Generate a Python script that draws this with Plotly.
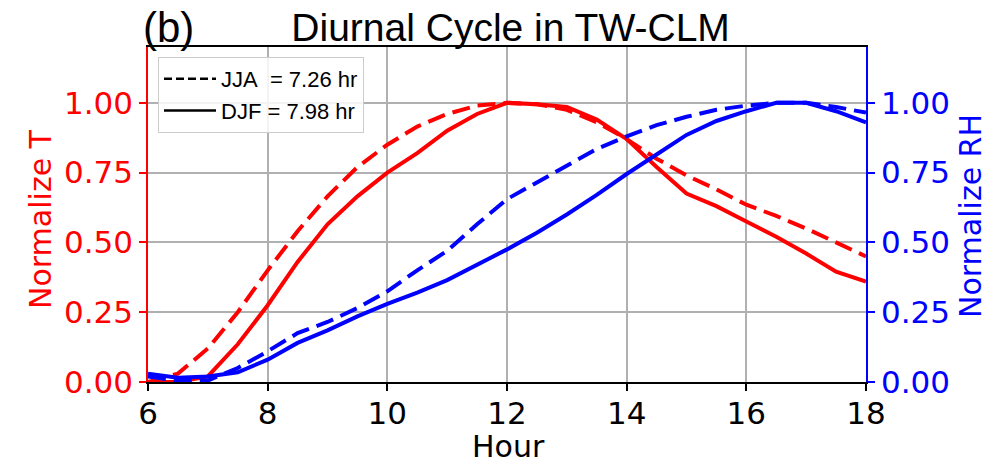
import plotly.graph_objects as go

hours = [6.0, 6.5, 7.0, 7.5, 8.0, 8.5, 9.0, 9.5, 10.0, 10.5, 11.0, 11.5, 12.0,
         12.5, 13.0, 13.5, 14.0, 14.5, 15.0, 15.5, 16.0, 16.5, 17.0, 17.5, 18.0]

t_djf = [0.00, 0.00, 0.02, 0.135, 0.275, 0.43, 0.565, 0.665, 0.75, 0.82, 0.90, 0.96, 1.00,
         0.995, 0.985, 0.94, 0.87, 0.77, 0.675, 0.63, 0.575, 0.52, 0.46, 0.395, 0.36]
t_jja = [0.00, 0.03, 0.12, 0.25, 0.40, 0.54, 0.665, 0.77, 0.85, 0.915, 0.96, 0.99, 1.00,
         0.995, 0.975, 0.93, 0.87, 0.80, 0.74, 0.69, 0.635, 0.595, 0.55, 0.50, 0.45]
rh_djf = [0.03, 0.015, 0.02, 0.035, 0.08, 0.14, 0.185, 0.235, 0.28, 0.32, 0.365, 0.42, 0.475,
          0.535, 0.60, 0.67, 0.745, 0.815, 0.885, 0.935, 0.97, 1.00, 1.00, 0.97, 0.93]
rh_jja = [0.02, 0.005, 0.005, 0.05, 0.11, 0.175, 0.215, 0.265, 0.325, 0.40, 0.47, 0.565, 0.655,
          0.715, 0.775, 0.835, 0.88, 0.92, 0.95, 0.975, 0.99, 1.00, 1.00, 0.985, 0.965]

legend_labels = ["JJA\u00a0 = 7.26 hr", "DJF = 7.98 hr"]
x_ticks = [6, 8, 10, 12, 14, 16, 18]
y_ticks = [0.0, 0.25, 0.5, 0.75, 1.0]

RED = "#ff0000"
BLUE = "#0000ff"
DASH = "18px,8px"
LW = 4
DV = "DejaVu Sans"
ARIAL = "Liberation Sans, Arial, sans-serif"

# plot area in pixels
L, R, T, B = 148, 866, 47, 382
W, H = 1005, 465


def px_x(p):
    return (p - L) / (R - L)


def px_y(p):
    return (B - p) / (B - T)


fig = go.Figure()

fig.add_trace(go.Scatter(x=hours, y=t_jja, mode="lines", line=dict(color=RED, width=LW, dash=DASH),
                         showlegend=False, yaxis="y"))
fig.add_trace(go.Scatter(x=hours, y=t_djf, mode="lines", line=dict(color=RED, width=LW),
                         showlegend=False, yaxis="y"))
fig.add_trace(go.Scatter(x=hours, y=rh_jja, mode="lines", line=dict(color=BLUE, width=LW, dash=DASH),
                         showlegend=False, yaxis="y2"))
fig.add_trace(go.Scatter(x=hours, y=rh_djf, mode="lines", line=dict(color=BLUE, width=LW),
                         showlegend=False, yaxis="y2"))

# legend entries
fig.add_trace(go.Scatter(x=[None], y=[None], mode="lines", name=legend_labels[0],
                         line=dict(color="black", width=2.5, dash="8px,4px")))
fig.add_trace(go.Scatter(x=[None], y=[None], mode="lines", name=legend_labels[1],
                         line=dict(color="black", width=2.5)))

fig.update_layout(
    width=W, height=H,
    margin=dict(l=L, r=W - R, t=T, b=H - B),
    paper_bgcolor="white", plot_bgcolor="white",
    title=dict(text="Diurnal Cycle in TW-CLM", x=0.505, xref="paper", xanchor="center",
               y=1 - 27 / H, yref="container", yanchor="middle",
               font=dict(family=ARIAL, size=39, color="black")),
    xaxis=dict(range=[6, 18], tickvals=x_ticks, ticks="outside", ticklen=7, tickwidth=1.5,
               tickcolor="black", showline=True, linecolor="black", linewidth=1.5, mirror=True,
               showgrid=True, gridcolor="#b0b0b0", gridwidth=1.5, zeroline=False, automargin=False,
               ticklabelstandoff=-4,
               tickfont=dict(family=DV, size=31, color="black")),
    yaxis=dict(range=[0, 1.2], tickvals=y_ticks, tickformat=".2f", ticks="outside", ticklen=7,
               tickwidth=1.5, tickcolor=RED, showline=True, linecolor=RED, linewidth=1.5,
               showgrid=True, gridcolor="#b0b0b0", gridwidth=1.5, zeroline=False, automargin=False,
               tickfont=dict(family=DV, size=31, color=RED)),
    yaxis2=dict(range=[0, 1.2], tickvals=y_ticks, tickformat=".2f", ticks="outside", ticklen=7,
                tickwidth=1.5, tickcolor=BLUE, showline=True, linecolor=BLUE, linewidth=1.5,
                overlaying="y", side="right", showgrid=False, zeroline=False, automargin=False,
                tickfont=dict(family=DV, size=31, color=BLUE)),
    legend=dict(x=px_x(158), y=px_y(57), xanchor="left", yanchor="top",
                bgcolor="rgba(255,255,255,0.85)", itemwidth=52,
                bordercolor="#cccccc", borderwidth=1, font=dict(family=ARIAL, size=22, color="black"),
                tracegroupgap=0),
    annotations=[
        dict(text="(b)", xref="paper", yref="paper", x=px_x(141), y=px_y(27),
             xanchor="left", yanchor="middle", showarrow=False,
             font=dict(family=ARIAL, size=42, color="black")),
        dict(text="Hour", xref="paper", yref="paper", x=px_x(508), y=px_y(447),
             xanchor="center", yanchor="middle", showarrow=False,
             font=dict(family=DV, size=30, color="black")),
        dict(text="Normalize T", xref="paper", yref="paper", x=px_x(40), y=px_y(219),
             xanchor="center", yanchor="middle", showarrow=False, textangle=-90,
             font=dict(family=DV, size=30, color=RED)),
        dict(text="Normalize RH", xref="paper", yref="paper", x=px_x(970), y=px_y(216),
             xanchor="center", yanchor="middle", showarrow=False, textangle=-90,
             font=dict(family=DV, size=30, color=BLUE)),
    ],
)

fig.write_html("out.html")
